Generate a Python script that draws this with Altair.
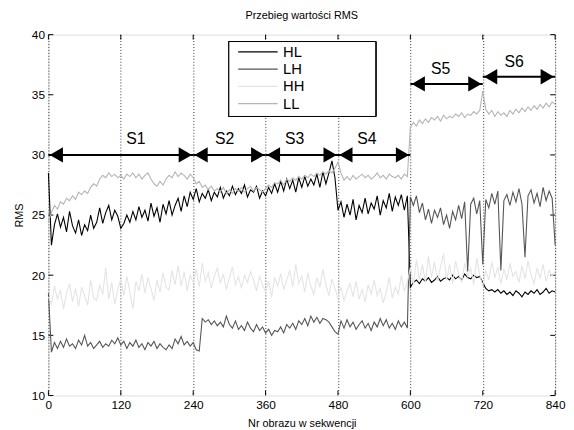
import altair as alt
import pandas as pd

# ---------------- data ----------------
frames = list(range(0, 841, 5))

hl = [28.5, 22.5, 24.2, 25.1, 24.0, 24.8, 23.6, 25.3, 24.1, 23.5, 24.6, 23.3,
      24.2, 23.7, 25.0, 23.9, 24.4, 25.6, 24.3, 25.2, 25.8, 24.6, 25.4, 24.9,
      23.9, 24.3, 25.0, 24.4, 25.3, 24.6, 25.7, 24.8, 25.4, 24.5, 26.0, 24.9,
      25.6, 24.4, 25.9, 25.1, 26.2, 25.0, 25.8, 26.4, 25.3, 26.6, 25.7, 26.9,
      26.3, 27.2, 26.1, 26.8, 26.4, 27.1, 26.2, 26.9, 26.5, 27.3, 26.4, 27.0,
      26.6, 27.4, 26.7, 27.2, 26.8, 27.5, 26.5, 27.1, 26.9, 27.4, 26.4, 27.0,
      26.6, 27.3, 26.8, 27.6, 26.9, 27.8, 27.0, 28.0, 27.2, 27.9, 26.9, 28.1,
      27.3, 28.2, 27.4, 28.0, 27.5, 28.4, 27.3, 28.6, 27.6, 28.5, 29.5, 28.1,
      25.4, 26.1, 24.8, 25.9, 25.0, 26.3, 24.6, 25.8, 25.2, 26.4, 25.1, 26.0,
      25.5, 26.6, 25.0, 26.2, 25.6, 26.8, 25.3, 26.5, 25.8, 26.7, 25.4, 26.6,
      19.0, 19.4, 19.6, 19.3, 19.7, 19.5, 19.8, 19.4, 19.6, 19.9, 19.5, 19.7,
      19.8, 19.6, 20.0, 19.7, 19.9, 19.6, 20.1, 19.8, 19.7, 20.0, 19.8, 19.9,
      19.4, 18.9, 18.7, 18.8, 18.6, 18.8, 18.5, 18.7, 18.4, 18.6, 18.3, 18.7,
      18.5, 18.2, 18.6, 18.4, 18.7, 18.5, 18.8, 18.4, 18.6, 18.9, 18.5, 18.7,
      18.6]

lh = [18.5, 13.6, 14.4, 13.9, 14.5, 14.0, 14.7, 14.1, 14.3, 13.9, 14.6, 14.2,
      15.0, 14.1, 14.4, 13.9, 14.2, 14.5, 14.0, 14.3, 14.1, 14.6, 14.3, 14.8,
      14.2, 14.5, 13.9, 14.4, 14.1, 14.6, 14.0, 14.3, 13.8, 14.4, 14.1, 14.5,
      13.9, 14.3, 14.0, 13.8, 14.2, 13.9, 14.7, 14.3, 14.9, 14.2, 14.5, 14.1,
      14.4, 13.8, 13.7, 16.4, 16.1, 16.3, 15.9, 16.2, 15.8, 16.1, 15.7, 16.6,
      15.9, 15.6, 16.2, 15.5, 15.8, 15.4, 16.1, 15.6, 15.3, 15.9, 15.4, 15.7,
      15.2, 15.5, 15.0, 15.4, 15.3, 15.7, 15.2, 15.9, 15.6, 16.0, 15.5, 16.2,
      15.9, 16.4, 15.8, 16.6, 16.1, 16.5, 16.0, 16.4, 16.3, 16.1, 15.7, 15.3,
      15.1, 16.2, 15.6, 16.3, 15.7, 16.1, 15.5, 15.9, 16.2, 15.6, 16.0, 15.4,
      16.1, 15.7, 16.4, 15.8, 16.3, 15.6, 16.0, 15.5, 16.2, 15.7, 16.1, 15.6,
      26.5, 25.8, 26.6, 25.2, 26.0, 24.6, 25.5, 24.3, 25.4, 24.8, 25.6, 24.2,
      25.0, 23.9, 25.3, 24.6, 25.8, 24.7, 26.1, 20.3, 25.9, 26.4, 25.1, 26.2,
      20.9, 26.3, 25.6, 26.8, 25.9, 27.0, 20.4, 26.2, 26.7, 25.8, 26.9, 26.1,
      27.2, 25.9, 21.5, 26.6, 27.1, 26.0, 26.8, 25.7, 27.3, 26.2, 27.0, 26.4,
      22.5]

hh = [18.2, 17.6, 19.1, 18.0, 18.8, 17.2, 18.5, 19.3, 17.8, 18.9, 17.4, 19.0,
      18.3, 17.5, 19.6, 18.1, 17.9, 19.2, 18.4, 20.6, 18.0, 19.4, 17.6, 18.8,
      19.7, 18.3, 19.9, 18.6, 17.2, 19.5, 18.7, 20.1, 18.5, 19.8, 18.9, 17.9,
      19.6, 18.6, 20.2, 19.0, 18.8, 20.4, 19.2, 20.8, 19.1, 20.3, 18.7, 20.0,
      19.4, 20.5, 19.0, 21.0, 19.5, 20.2, 18.9, 19.9, 20.6, 19.3, 20.1, 18.8,
      19.8, 20.7, 19.2, 19.9, 18.9, 20.0, 19.4, 20.3, 19.6, 18.7, 19.9, 19.2,
      18.6, 19.5, 18.2, 19.8, 19.1, 20.1, 18.8, 19.6, 20.4, 19.0, 20.9, 19.3,
      19.9, 18.6, 20.2, 19.1, 18.4, 19.8, 19.0, 20.5, 19.2, 18.3, 19.7, 18.9,
      18.1, 19.0, 17.9, 18.7, 19.3, 18.2, 19.5, 18.0, 18.8, 17.8, 19.2, 18.4,
      19.6, 18.3, 18.9, 17.7, 18.6, 19.8, 18.1, 19.0, 18.4, 20.0, 18.7, 19.4,
      20.6, 19.2, 21.3, 19.6, 20.9, 19.4, 21.6, 19.8, 21.1, 19.5, 20.7, 21.8,
      19.6, 20.9, 19.3, 21.2, 20.1, 19.4, 21.0, 19.9, 20.6, 19.2, 21.4, 20.0,
      19.1, 20.4, 19.6, 21.1, 19.8, 20.7, 19.3, 20.5, 19.6, 21.0, 19.9, 20.3,
      19.4, 20.8, 19.7, 21.2, 20.0, 19.3, 20.6, 19.8, 20.9, 19.5, 20.4, 19.9,
      20.3]

ll = [24.5, 25.2, 25.8, 25.5, 26.1, 25.9, 26.4, 26.2, 26.6, 26.3, 26.9, 26.7,
      27.0, 26.8, 27.3, 27.6, 27.4, 28.0, 28.3, 28.1, 28.5, 28.2, 28.4, 28.1,
      28.3, 28.0, 28.4, 28.2, 28.5, 28.1, 28.4, 28.0, 28.3, 28.5, 28.0, 27.6,
      27.4, 27.8, 27.5, 28.0, 28.3, 28.1, 28.6, 28.2, 28.5, 28.3, 28.0, 28.4,
      28.1, 27.6, 27.8, 27.3, 27.5, 27.1, 27.4, 27.0, 27.2, 26.9, 27.3, 26.8,
      27.1, 26.8, 27.2, 27.0, 27.3, 26.9, 27.2, 27.4, 27.0, 27.3, 27.1, 26.9,
      27.2, 27.5, 27.3, 27.7, 27.6, 27.9, 27.5, 28.0, 27.8, 28.1, 27.9, 28.2,
      28.0, 28.3, 28.1, 28.4, 28.2, 28.5, 28.3, 28.6, 28.4, 28.7, 28.5, 28.9,
      29.4, 28.5, 27.9, 28.2, 27.9, 28.3, 28.0, 28.2, 28.4, 28.1, 28.3, 28.0,
      28.2, 28.5, 28.1, 28.3, 28.0, 28.4, 28.2, 28.1, 28.3, 28.0, 28.4, 28.2,
      32.3, 32.7, 32.4, 32.9, 32.6, 33.0, 32.7, 33.1, 32.9, 33.2, 32.8, 33.3,
      33.0, 33.2, 33.1, 33.4, 33.2, 33.5, 33.1, 33.4, 33.3, 33.6, 33.4, 33.7,
      35.3, 33.8, 33.4, 33.7, 33.2, 33.6, 33.3, 33.5, 33.2, 33.7, 33.4, 33.8,
      33.5, 33.9, 33.6, 34.0, 33.7, 34.1, 33.8, 34.2, 33.9, 34.3, 34.0, 34.4,
      34.2]

series_names = ["HL", "LH", "HH", "LL"]
series_colors = ["#000000", "#555555", "#e4e4e4", "#b4b4b4"]

x_ticks = [0, 120, 240, 360, 480, 600, 720, 840]
y_ticks = [10, 15, 20, 25, 30, 35, 40]

seg_names = ["S1", "S2", "S3", "S4", "S5", "S6"]
seg_start = [0, 240, 360, 480, 600, 720]
seg_end = [240, 360, 480, 600, 720, 840]
seg_y = [30, 30, 30, 30, 35.9, 36.5]
label_x = [145, 292, 408, 528, 650, 772]
label_y = [31.3, 31.3, 31.3, 31.3, 37.1, 37.7]

# ---------------- tables ----------------
rows = []
for name, vals in zip(series_names, [hl, lh, hh, ll]):
    for f, v in zip(frames, vals):
        rows.append({"frame": f, "rms": v, "series": name})
df = pd.DataFrame(rows)

segs = pd.DataFrame({"name": seg_names, "start": seg_start, "end": seg_end,
                     "y": seg_y, "lx": label_x, "ly": label_y})
xt = pd.DataFrame({"t": x_ticks})
yt = pd.DataFrame({"t": y_ticks})

FONT = "Liberation Sans"
W, H = 514, 366

xscale = alt.Scale(domain=[0, 840], nice=False, zero=False)
yscale = alt.Scale(domain=[10, 40], nice=False, zero=False)

xaxis = alt.Axis(values=x_ticks, title="Nr obrazu w sekwencji", ticks=False,
                 labelPadding=4, titlePadding=7, grid=True, gridDash=[1, 2],
                 gridColor="#333333", gridWidth=1, domain=False,
                 labelFont=FONT, labelFontSize=12, labelColor="#000",
                 titleFont=FONT, titleFontSize=11, titleFontWeight="normal",
                 titleColor="#000", labelFlush=False)
yaxis = alt.Axis(values=y_ticks, title="RMS", ticks=False, labelPadding=4,
                 titlePadding=7, grid=False, domain=False,
                 labelFont=FONT, labelFontSize=12, labelColor="#000",
                 titleFont=FONT, titleFontSize=11, titleFontWeight="normal",
                 titleColor="#000", labelFlush=False)


def X(field):
    return alt.X(f"{field}:Q", scale=xscale, axis=xaxis)


def Y(field):
    return alt.Y(f"{field}:Q", scale=yscale, axis=yaxis)


color = alt.Color(
    "series:N",
    scale=alt.Scale(domain=series_names, range=series_colors),
    legend=alt.Legend(
        title=None, orient="none", legendX=183, legendY=5,
        direction="vertical",
        padding=5, symbolType="M-4,0H4", symbolSize=100,
        symbolStrokeWidth=1.2, symbolOffset=17, labelOffset=18,
        labelFont=FONT, labelFontSize=15, labelColor="#000",
        rowPadding=1.5,
    ),
)

# white legend box with black frame (the legend entries are drawn on top)
legend_box = alt.Chart(xt).mark_rect(
    fill="white", stroke="#000", strokeWidth=1
).encode(x=alt.value(183), x2=alt.value(332), y=alt.value(7), y2=alt.value(83))

# inward ticks on all four sides
tick_bottom = alt.Chart(xt).mark_rule(color="#000").encode(
    x=X("t"), y=alt.value(H), y2=alt.value(H - 5))
tick_top = alt.Chart(xt).mark_rule(color="#000").encode(
    x=X("t"), y=alt.value(0), y2=alt.value(5))
tick_left = alt.Chart(yt).mark_rule(color="#000").encode(
    y=Y("t"), x=alt.value(0), x2=alt.value(5))
tick_right = alt.Chart(yt).mark_rule(color="#000").encode(
    y=Y("t"), x=alt.value(W), x2=alt.value(W - 5))

line_layers = []
for name in series_names:
    line_layers.append(
        alt.Chart(df).transform_filter(alt.datum.series == name)
        .mark_line(strokeWidth=1.1, interpolate="linear")
        .encode(x=X("frame"), y=Y("rms"), color=color, order="frame:Q")
    )

arrow_line = alt.Chart(segs).mark_rule(color="#000", strokeWidth=2).encode(
    x=X("start"), x2="end:Q", y=Y("y"))
head_left = alt.Chart(segs).mark_point(
    shape="triangle-left", filled=True, color="#000", size=240, opacity=1,
    xOffset=8).encode(x=X("start"), y=Y("y"))
head_right = alt.Chart(segs).mark_point(
    shape="triangle-right", filled=True, color="#000", size=240, opacity=1,
    xOffset=-8).encode(x=X("end"), y=Y("y"))
seg_text = alt.Chart(segs).mark_text(
    font=FONT, fontSize=16, color="#000", baseline="middle", align="center"
).encode(x=X("lx"), y=Y("ly"), text="name:N")

chart = alt.layer(
    tick_bottom, tick_top, tick_left, tick_right, legend_box,
    *line_layers,
    arrow_line, head_left, head_right, seg_text,
).properties(
    width=W, height=H,
    title=alt.TitleParams("Przebieg wartości RMS", font=FONT, fontSize=11,
                          fontWeight="normal", color="#000", anchor="middle",
                          offset=8),
    autosize=alt.AutoSizeParams(type="none"),
    padding={"left": 41, "top": 24, "right": 11, "bottom": 32},
).configure_view(stroke="#000", strokeWidth=1).configure(background="white")

chart.save("out.html", embed_options={"renderer": "svg", "actions": False})
